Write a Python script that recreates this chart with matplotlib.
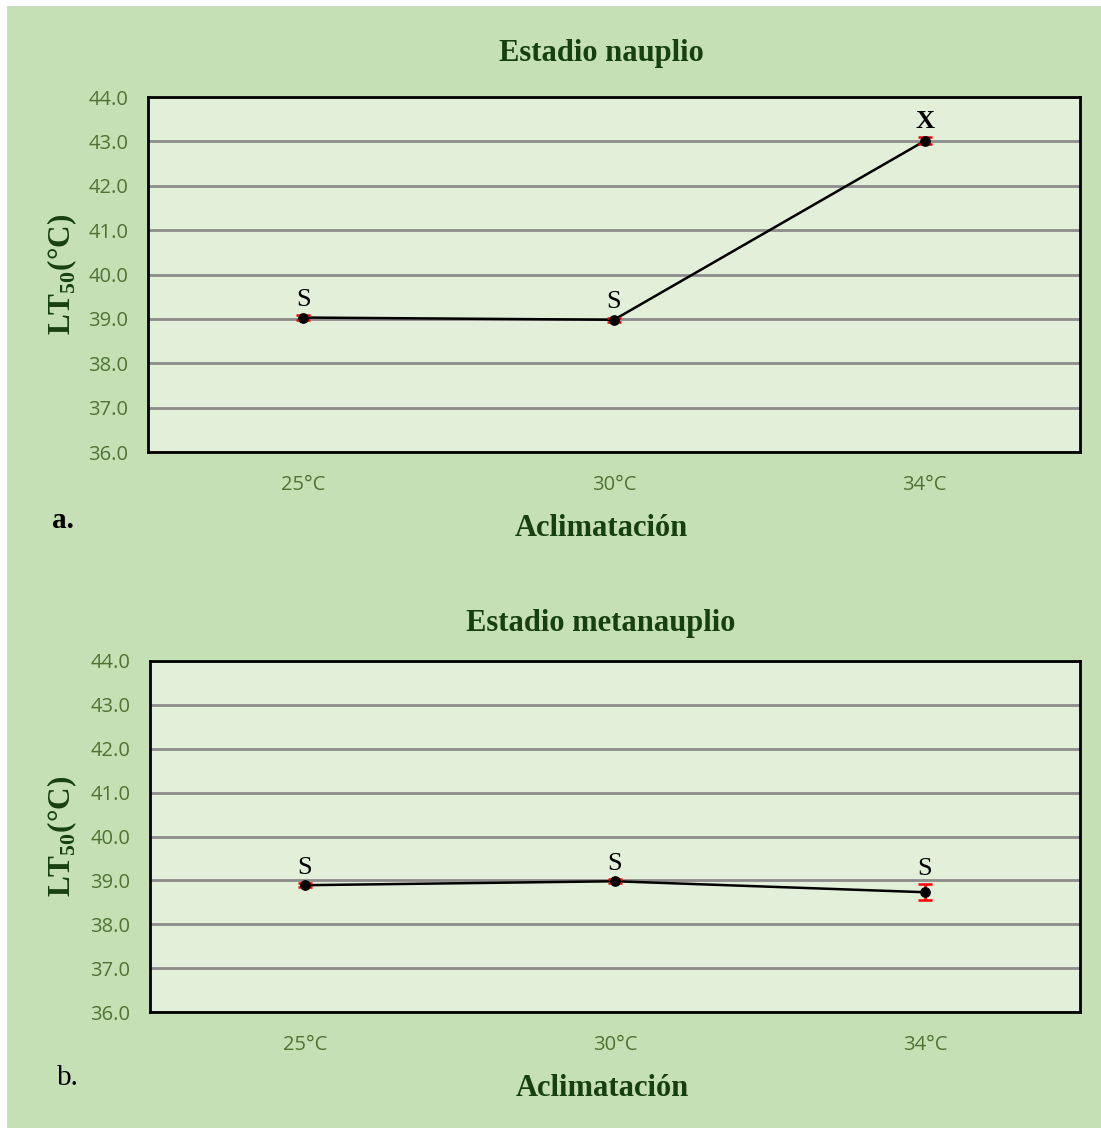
import numpy as np
import matplotlib
matplotlib.use("Agg")
import matplotlib.pyplot as plt
from matplotlib.patches import Rectangle

# -----------------------------------------------------------------------------
# DATOS
# -----------------------------------------------------------------------------
categorias = ["25°C", "30°C", "34°C"]

nauplio_lt50 = [39.03, 38.98, 43.01]
nauplio_err = [0.05, 0.05, 0.08]
nauplio_letras = ["S", "S", "X"]

metanauplio_lt50 = [38.89, 38.98, 38.73]
metanauplio_err = [0.04, 0.05, 0.18]
metanauplio_letras = ["S", "S", "S"]

yticks = np.arange(36.0, 44.01, 1.0)

# -----------------------------------------------------------------------------
# ESTILO
# -----------------------------------------------------------------------------
_BG = "#c5e0b4"
_PLOT = "#e2efd9"
_DARK = "#17400f"
_TICK = "#4e7335"
_GRID = "#8c8c8c"
_SERIF = "Liberation Serif"
_SANS = "Open Sans"
W, H = 1101, 1128


def _panel(ax, valores, errores, letras):
    x = np.arange(len(categorias))
    ax.set_facecolor(_PLOT)
    ax.plot(x, valores, color="black", lw=1.8, zorder=3)
    ax.errorbar(x, valores, yerr=errores, fmt="none", ecolor="red",
                elinewidth=1.8, capsize=5, capthick=1.8, zorder=4)
    ax.scatter(x, valores, s=45, color="black", zorder=5)
    for xi, v, e, l in zip(x, valores, errores, letras):
        ax.annotate(l, (xi, v + e), xytext=(0, 3), textcoords="offset points",
                    ha="center", va="bottom", fontsize=19, family=_SERIF,
                    fontweight="bold" if l == "X" else "normal", color="black")

    ax.set_xlim(-0.5, len(categorias) - 0.5)
    ax.set_ylim(36, 44)
    ax.set_yticks(yticks)
    ax.set_yticklabels([f"{t:.1f}" for t in yticks])
    ax.set_xticks(x)
    ax.set_xticklabels(categorias)
    ax.tick_params(length=0, labelsize=14.5, labelcolor=_TICK)
    ax.tick_params(axis="y", pad=14)
    ax.tick_params(axis="x", pad=16.5)
    for lab in ax.get_xticklabels() + ax.get_yticklabels():
        lab.set_family(_SANS)
    ax.grid(axis="y", color=_GRID, lw=2, zorder=1)
    ax.set_axisbelow(True)
    for s in ax.spines.values():
        s.set_color("black")
        s.set_linewidth(2)

    ax.set_ylabel(r"LT$_{\mathbf{50}}$(°C)", fontsize=22.5, fontweight="bold",
                  family=_SERIF, color=_DARK)


def _ftext(px, py, s, **kw):
    fig.text(px / W, 1 - py / H, s, ha="center", va="center", **kw)


plt.rcParams["mathtext.fontset"] = "custom"
plt.rcParams["mathtext.rm"] = _SERIF
plt.rcParams["mathtext.bf"] = _SERIF + ":bold"

fig = plt.figure(figsize=(W / 100, H / 100), dpi=100)
fig.patch.set_facecolor("white")
fig.patches.append(Rectangle((7 / W, 0), 1 - 7 / W, 1 - 6 / H,
                             transform=fig.transFigure, facecolor=_BG,
                             edgecolor="none", zorder=-10))

ax1 = fig.add_axes([148 / W, 1 - 452 / H, 932 / W, 355 / H])
ax2 = fig.add_axes([150 / W, 1 - 1012 / H, 930 / W, 351 / H])

_panel(ax1, nauplio_lt50, nauplio_err, nauplio_letras)
_panel(ax2, metanauplio_lt50, metanauplio_err, metanauplio_letras)
ax1.yaxis.set_label_coords((79 - 148) / 932, 0.5)
ax2.yaxis.set_label_coords((79 - 150) / 930, 0.5)

tkw = dict(fontsize=22, fontweight="bold", family=_SERIF, color=_DARK)
_ftext(601, 53, "Estadio nauplio", **tkw)
_ftext(601, 624, "Estadio metanauplio", **tkw)
_ftext(601, 528, "Aclimatación", **tkw)
_ftext(602, 1088, "Aclimatación", **tkw)

_ftext(63, 521, "a.", fontsize=21, fontweight="bold", family=_SERIF,
       color="black")
_ftext(68, 1078, "b.", fontsize=21, family=_SERIF, color="black")

fig.savefig("out.png", dpi=100, facecolor=fig.get_facecolor())
plt.close(fig)
